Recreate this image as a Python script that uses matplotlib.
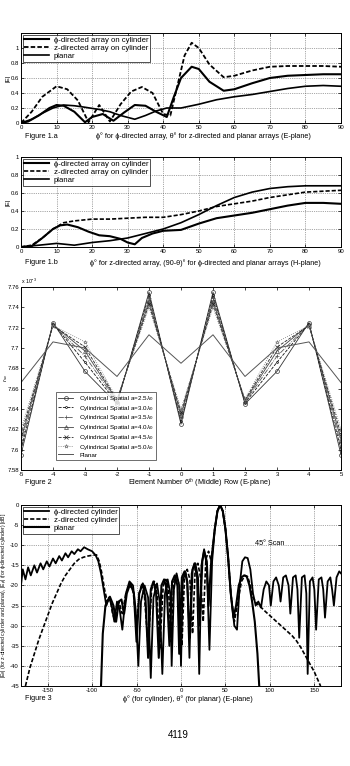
import matplotlib
matplotlib.use("Agg")
import matplotlib.pyplot as plt
from matplotlib.ticker import FormatStrFormatter

plt.rcParams['font.family'] = ['Liberation Sans', 'DejaVu Sans']
plt.rcParams['axes.unicode_minus'] = False
plt.rcParams['mathtext.fontset'] = 'custom'
plt.rcParams['mathtext.rm'] = 'Liberation Sans'
plt.rcParams['mathtext.it'] = 'Liberation Sans:italic'

# ---------------- Figure 1.a (E-plane) ----------------
e_phi_x = [0, 2, 5, 8, 10, 12, 15, 18, 20, 23, 26, 29, 32, 35, 38, 41, 43, 45, 48, 50, 53, 57, 60, 65, 70, 75, 80, 85, 90]
e_phi_y = [0, 0.02, 0.1, 0.2, 0.24, 0.23, 0.15, 0.01, 0.08, 0.12, 0.03, 0.14, 0.24, 0.23, 0.15, 0.08, 0.35, 0.6, 0.75, 0.72, 0.55, 0.43, 0.45, 0.53, 0.6, 0.63, 0.64, 0.65, 0.65]
e_z_x = [0, 3, 6, 10, 13, 16, 19, 22, 25, 28, 31, 34, 37, 40, 42, 44, 46, 48, 50, 53, 57, 60, 65, 70, 75, 80, 85, 90]
e_z_y = [0, 0.15, 0.35, 0.49, 0.45, 0.3, 0.01, 0.24, 0.02, 0.25, 0.42, 0.48, 0.4, 0.12, 0.1, 0.5, 0.9, 1.07, 1.0, 0.78, 0.61, 0.63, 0.7, 0.75, 0.76, 0.76, 0.76, 0.75]
e_pl_x = [0, 3, 6, 9, 12, 15, 18, 22, 25, 28, 32, 35, 38, 41, 45, 50, 55, 60, 65, 70, 75, 80, 85, 90]
e_pl_y = [0, 0.05, 0.13, 0.2, 0.24, 0.23, 0.21, 0.18, 0.15, 0.1, 0.05, 0.1, 0.16, 0.2, 0.2, 0.25, 0.31, 0.35, 0.38, 0.42, 0.46, 0.49, 0.5, 0.49]

# ---------------- Figure 1.b (H-plane) ----------------
h_phi_x = [0, 3, 6, 9, 11, 13, 16, 19, 22, 25, 28, 30, 32, 34, 37, 40, 45, 50, 55, 60, 65, 70, 75, 80, 85, 90]
h_phi_y = [0, 0.01, 0.1, 0.2, 0.24, 0.25, 0.22, 0.17, 0.13, 0.12, 0.09, 0.05, 0.03, 0.1, 0.15, 0.18, 0.19, 0.26, 0.32, 0.35, 0.38, 0.42, 0.46, 0.49, 0.49, 0.48]
h_z_x = [0, 3, 6, 9, 12, 15, 20, 25, 30, 35, 40, 45, 50, 55, 60, 65, 70, 75, 80, 85, 90]
h_z_y = [0, 0.02, 0.1, 0.2, 0.27, 0.29, 0.31, 0.31, 0.32, 0.33, 0.33, 0.36, 0.4, 0.45, 0.48, 0.51, 0.55, 0.58, 0.61, 0.62, 0.63]
h_pl_x = [0, 5, 10, 15, 20, 25, 30, 35, 40, 45, 50, 55, 60, 65, 70, 75, 80, 85, 90]
h_pl_y = [0, 0.02, 0.04, 0.02, 0.05, 0.07, 0.1, 0.15, 0.2, 0.27, 0.36, 0.46, 0.55, 0.61, 0.65, 0.67, 0.68, 0.68, 0.68]

# ---------------- Figure 2 ----------------
elements = [-5, -4, -3, -2, -1, 0, 1, 2, 3, 4, 5]
cyl_labels = ["Cylindrical Spatial a=2.5$\\lambda_0$", "Cylindrical Spatial a=3.0$\\lambda_0$",
              "Cylindrical Spatial a=3.5$\\lambda_0$", "Cylindrical Spatial a=4.0$\\lambda_0$",
              "Cylindrical Spatial a=4.5$\\lambda_0$", "Cylindrical Spatial a=5.0$\\lambda_0$"]
cyl_a25 = [7.595, 7.725, 7.677, 7.645, 7.755, 7.625, 7.755, 7.645, 7.677, 7.725, 7.595]
cyl_a30 = [7.600, 7.724, 7.686, 7.646, 7.752, 7.628, 7.752, 7.646, 7.686, 7.724, 7.600]
cyl_a35 = [7.605, 7.723, 7.692, 7.647, 7.749, 7.631, 7.749, 7.647, 7.692, 7.723, 7.605]
cyl_a40 = [7.610, 7.723, 7.697, 7.648, 7.746, 7.634, 7.746, 7.648, 7.697, 7.723, 7.610]
cyl_a45 = [7.615, 7.722, 7.701, 7.649, 7.743, 7.637, 7.743, 7.649, 7.701, 7.722, 7.615]
cyl_a50 = [7.620, 7.722, 7.706, 7.650, 7.740, 7.640, 7.740, 7.650, 7.706, 7.722, 7.620]
planar_fig2 = [7.666, 7.706, 7.700, 7.672, 7.713, 7.685, 7.713, 7.672, 7.700, 7.706, 7.666]

# ---------------- Figure 3 (dB patterns) ----------------
p3_phi_x = [-180, -178, -175, -172, -169, -165, -162, -158, -155, -151, -148, -144, -141, -137, -134, -130, -127,
            -123, -120, -116, -113, -109, -105, -100, -96, -93, -90, -87, -84, -81, -78, -75, -72, -69, -66, -62,
            -58, -54, -51, -48, -45, -41, -37, -34, -31, -27, -24, -21, -18, -15, -12, -10.5, -8, -5, -2, 0, 2, 5,
            7, 9.5, 12, 15, 18, 20.5, 23, 26, 29, 32, 35, 38, 41, 44, 47, 50, 53, 56, 60, 63, 66, 69, 72, 75, 78,
            81, 84, 87, 90, 93, 96, 99, 101, 104, 107, 110, 112, 115, 118, 121, 123, 126, 129, 131, 133, 136, 139,
            141, 142.5, 145, 148, 150, 152, 155, 158, 160, 162, 165, 168, 170, 172, 175, 178, 180]
p3_phi_y = [-20, -16, -18.5, -15.5, -17.5, -15, -16.8, -14.5, -16, -14, -15.3, -13.3, -14.5, -12.7, -13.8, -12, -13,
            -11.5, -12.2, -11, -11.5, -10.5, -11, -11.5, -12.5, -14, -17, -21, -25, -23, -25, -29, -24, -26, -31, -22,
            -19, -20, -26, -40, -24, -20, -23, -43, -23, -19.5, -24, -42, -22, -18.5, -22, -40, -21, -17, -20, -40,
            -19, -16.5, -19, -38, -17, -14.5, -18, -42, -15, -11, -15, -36, -14, -6, -1.5, 0, -1.5, -6, -13, -22, -30,
            -31, -20, -14, -13, -13.2, -16, -22, -25, -24, -25.5, -21, -19, -20, -25, -19, -18, -20, -24, -18, -17.5,
            -20, -27, -18, -17.5, -21, -33, -18, -17.5, -22, -42, -19, -18, -21, -31, -18.5, -18, -21, -28, -19, -18,
            -21, -25, -18, -16.5, -17]
p3_z_x = [-175, -170, -165, -160, -155, -150, -145, -140, -135, -130, -125, -120, -115, -110, -105, -100, -95, -92,
          -89, -86, -83, -80, -77, -74, -70, -66, -62, -58, -54, -50, -47, -44, -41, -37, -33, -30, -27, -24, -20, -17,
          -14, -11, -8, -5, -2, 1, 4, 7, 10, 13, 16, 19, 22, 25, 28, 31, 34, 38, 41, 44, 47, 50, 53, 56, 60, 64,
          68, 72, 75, 78, 81, 85, 88, 95, 100, 105, 110, 115, 120, 125, 130, 135, 140, 145, 150, 155, 157]
p3_z_y = [-45, -40.5, -37, -33.5, -30.5, -27.5, -24.5, -22, -19.5, -17.5, -16, -14.5, -13.5, -13, -12.7, -12.5,
          -12.4, -14, -17, -21, -24, -23, -27, -29, -24, -27, -22, -20, -21, -30, -22, -19.5, -23, -35, -21, -19, -22,
          -36, -20, -18.5, -21, -34, -19, -17.5, -20, -35, -17.5, -16, -18.5, -32, -15.5, -14.5, -18, -29, -13.5,
          -11.5, -14, -6, -1.5, 0, -1.5, -6, -13, -22, -29, -24, -19, -17.5, -17.8, -20, -23, -24.5, -25, -26.5,
          -27.5, -28.5, -29.5, -30.5, -31.5, -32.5, -33.8, -35.5, -37.5, -39.5, -41.5, -44, -45]
p3_pl_x = [-90, -88, -85, -80, -76, -73, -70, -67, -64, -61, -57, -53, -50, -47, -43, -40, -37, -34, -31, -28, -25,
           -22, -19, -16, -13, -10, -7, -4, -2, 1, 4, 7, 10, 13, 16, 19, 21, 24, 26, 29, 31, 34, 38, 41, 44, 47,
           50, 53, 56, 59, 62, 65, 68, 71, 74, 77, 80, 83, 86, 88]
p3_pl_y = [-45, -32, -25, -22.8, -25, -29, -24, -23.5, -27, -22, -19.5, -22, -34, -22, -19.5, -23, -38, -21, -19, -22,
           -38, -20, -18.5, -21, -35, -19, -17.5, -20, -37, -18, -16.5, -19, -33, -16, -14.5, -18, -30, -14, -11.5,
           -14, -25, -14, -6, -1.5, 0, -1.5, -6, -13, -22, -28, -25, -20, -18, -17.5, -17.8, -20, -24, -29, -37, -45]

W, H = 350, 766
fig = plt.figure(figsize=(3.5, 7.66), dpi=100)


def ax_at(left, top, right, bottom):
    return fig.add_axes([left / W, 1 - bottom / H, (right - left) / W, (bottom - top) / H])


def style(ax, grid=True):
    ax.tick_params(direction='in', labelsize=4.3, length=2, width=0.5, pad=1.5, top=True, right=True)
    for s in ax.spines.values():
        s.set_linewidth(0.7)
    if grid:
        ax.grid(True, linestyle=':', linewidth=0.5, color='#555555')


tfs = 5.2

# ---- Panel 1a
ax1 = ax_at(21, 33, 341, 123)
ax1.plot(e_phi_x, e_phi_y, color='k', lw=1.5, label='ϕ-directed array on cylinder')
ax1.plot(e_z_x, e_z_y, color='k', lw=1.3, ls=(0, (2.5, 1.2)), label='z-directed array on cylinder')
ax1.plot(e_pl_x, e_pl_y, color='k', lw=1.2, label='planar')
ax1.set_xlim(0, 90)
ax1.set_ylim(0, 1.2)
ax1.set_xticks(range(0, 91, 10))
ax1.set_yticks([0, 0.2, 0.4, 0.6, 0.8, 1])
ax1.yaxis.set_major_formatter(FormatStrFormatter('%g'))
style(ax1)
ax1.set_ylabel('|E|', fontsize=4.5, labelpad=0)
ax1.legend(loc='upper left', fontsize=5.6, frameon=True, fancybox=False, edgecolor='k', handlelength=3.2,
           borderpad=0.2, labelspacing=0.1, borderaxespad=0.2, handletextpad=0.6).get_frame().set_linewidth(0.6)
fig.text(25 / W, 1 - 136 / H, 'Figure 1.a', fontsize=tfs, va='center')
fig.text(203 / W, 1 - 136 / H, 'ϕ° for ϕ-directed array, θ° for z-directed and planar arrays (E-plane)',
         fontsize=tfs, va='center', ha='center')

# ---- Panel 1b
ax2 = ax_at(21, 157, 341, 247)
ax2.plot(h_phi_x, h_phi_y, color='k', lw=1.5, label='ϕ-directed array on cylinder')
ax2.plot(h_z_x, h_z_y, color='k', lw=1.2, ls=(0, (2.5, 1.2)), label='z-directed array on cylinder')
ax2.plot(h_pl_x, h_pl_y, color='k', lw=1.2, label='planar')
ax2.set_xlim(0, 90)
ax2.set_ylim(0, 1)
ax2.set_xticks(range(0, 91, 10))
ax2.set_yticks([0, 0.2, 0.4, 0.6, 0.8, 1])
ax2.yaxis.set_major_formatter(FormatStrFormatter('%g'))
style(ax2)
ax2.set_ylabel('|E|', fontsize=4.5, labelpad=0)
ax2.legend(loc='upper left', fontsize=5.6, frameon=True, fancybox=False, edgecolor='k', handlelength=3.2,
           borderpad=0.2, labelspacing=0.1, borderaxespad=0.2, handletextpad=0.6).get_frame().set_linewidth(0.6)
fig.text(25 / W, 1 - 263 / H, 'Figure 1.b', fontsize=tfs, va='center')
fig.text(205 / W, 1 - 263 / H, 'ϕ° for z-directed array, (90-θ)° for ϕ-directed and planar arrays (H-plane)',
         fontsize=tfs, va='center', ha='center')

# ---- Panel 2
ax3 = ax_at(21, 287, 341, 470)
cyl_series = [cyl_a25, cyl_a30, cyl_a35, cyl_a40, cyl_a45, cyl_a50]
markers = ['o', '.', '+', '^', 'x', '*']
lstyles = ['-', '--', '-.', '-', '--', ':']
colors = ['#333333', '#111111', '#555555', '#444444', '#222222', '#777777']
for vals, lab, m, ls, c in zip(cyl_series, cyl_labels, markers, lstyles, colors):
    ax3.plot(elements, vals, color=c, lw=0.6, ls=ls, marker=m, ms=2.8, mfc='none', mew=0.5, label=lab)
ax3.plot(elements, planar_fig2, color='#555555', lw=0.7, label='Planar')
ax3.set_xlim(-5, 5)
ax3.set_ylim(7.58, 7.76)
ax3.set_xticks(elements)
ax3.set_yticks([7.58, 7.60, 7.62, 7.64, 7.66, 7.68, 7.70, 7.72, 7.74, 7.76])
ax3.yaxis.set_major_formatter(FormatStrFormatter('%g'))
style(ax3, grid=False)
fig.text(6 / W, 1 - 378 / H, '$r_{sc}$', fontsize=4.5, rotation=90, va='center', ha='center')
ax3.text(0.0, 1.005, 'x 10$^{-3}$', transform=ax3.transAxes, fontsize=3.8, va='bottom', ha='left')
leg3 = ax3.legend(loc='lower left', bbox_to_anchor=(0.1, 0.04), fontsize=4.5, frameon=True, fancybox=False,
                  edgecolor='k', handlelength=2.4, borderpad=0.3, labelspacing=0.12, handletextpad=1.0)
leg3.get_frame().set_linewidth(0.5)
fig.text(25 / W, 1 - 483 / H, 'Figure 2', fontsize=tfs, va='center')
fig.text(200 / W, 1 - 483 / H, 'Element Number 6$^{th}$ (Middle) Row (E-plane)', fontsize=tfs,
         va='center', ha='center')

# ---- Panel 3
ax4 = ax_at(21, 505, 341, 686)
ax4.plot(p3_phi_x, p3_phi_y, color='k', lw=1.3, label='ϕ-directed cylinder')
ax4.plot(p3_z_x, p3_z_y, color='k', lw=1.2, ls=(0, (2.5, 1.2)), label='z-directed cylinder')
ax4.plot(p3_pl_x, p3_pl_y, color='k', lw=1.5, label='planar')
ax4.set_xlim(-180, 180)
ax4.set_ylim(-45, 0)
ax4.set_xticks([-150, -100, -50, 0, 50, 100, 150])
ax4.set_yticks(list(range(-45, 1, 5)))
style(ax4)
ax4.set_ylabel('|E$_\\theta$| (for z-directed cylinder and planar), |E$_\\phi$| (for ϕ-directed cylinder) [dB]',
               fontsize=3.7, labelpad=0)
ax4.text(100, -9.5, '45° Scan', fontsize=5.2, ha='center', va='center')
ax4.legend(loc='upper left', fontsize=5.6, frameon=True, fancybox=False, edgecolor='k', handlelength=3.2,
           borderpad=0.2, labelspacing=0.1, borderaxespad=0.2, handletextpad=0.6).get_frame().set_linewidth(0.6)
fig.text(25 / W, 1 - 699 / H, 'Figure 3', fontsize=tfs, va='center')
fig.text(188 / W, 1 - 699 / H, 'ϕ° (for cylinder), θ° (for planar) (E-plane)', fontsize=tfs,
         va='center', ha='center')

fig.text(178 / W, 1 - 735 / H, '4119', fontsize=7, va='center', ha='center')

fig.savefig('out.png', dpi=100)
